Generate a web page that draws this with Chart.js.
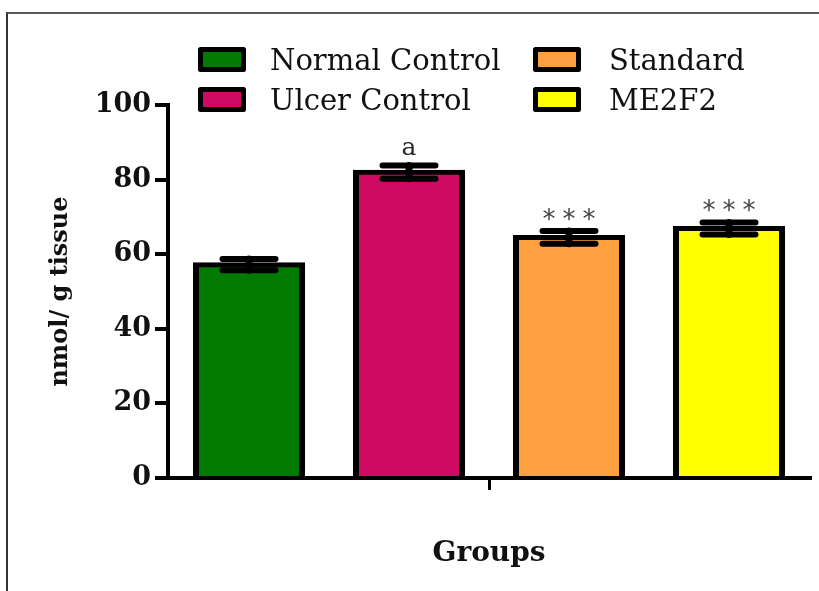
<!DOCTYPE html>
<html>
<head>
<meta charset="utf-8">
<title>nmol/ g tissue by group</title>
<script src="https://cdn.jsdelivr.net/npm/chart.js@4.4.1/dist/chart.umd.min.js"></script>
<style>
  html, body { margin: 0; padding: 0; background: #fff; }
  #wrap { position: relative; width: 819px; height: 591px; overflow: hidden; }
  #frame { position: absolute; left: 6px; top: 12px; width: 900px; height: 700px;
           border-left: 2px solid #333; border-top: 2px solid #5a5a5a; }
  #chart { position: absolute; left: 0; top: 0; }
</style>
</head>
<body>
<div id="wrap">
  <div id="frame"></div>
  <canvas id="chart" width="819" height="591"></canvas>
</div>
<script>
// ---- data ----
const groups = ['Normal Control', 'Ulcer Control', 'Standard', 'ME2F2'];
const means = [57.2, 82.0, 64.5, 66.9];
const sem = [1.5, 1.8, 1.7, 1.6];
const significance = ['', 'a', '***', '***'];
const categories = [''];
const yTickValues = [0, 20, 40, 60, 80, 100];
const xTitle = 'Groups';
const yTitle = 'nmol/ g tissue';

// ---- styles ----
const palette = ['#007A00', '#CF0A63', '#FFA040', '#FFFF00'];
const BORDER = 5;

const datasets = groups.map((g, i) => ({
  label: g,
  data: [means[i]],
  errors: [sem[i]],
  note: significance[i],
  backgroundColor: palette[i],
  borderColor: '#000',
  borderWidth: { top: BORDER, left: 6, right: 6, bottom: 0 },
  borderSkipped: 'start',
  inflateAmount: 2.5,
  categoryPercentage: 0.9969,
  barPercentage: 0.669
}));

// mean ± SEM whiskers with flat caps
const errorBars = {
  id: 'errorBars',
  afterDatasetsDraw(chart) {
    const { ctx } = chart;
    const y = chart.scales.y;
    ctx.save();
    ctx.strokeStyle = '#000';
    ctx.lineCap = 'round';
    chart.data.datasets.forEach((ds, i) => {
      chart.getDatasetMeta(i).data.forEach((bar, j) => {
        const v = ds.data[j], e = ds.errors[j];
        const yHi = y.getPixelForValue(v + e);
        const yLo = y.getPixelForValue(v - e);
        const half = 26.5;
        ctx.lineWidth = 7;
        ctx.beginPath();
        ctx.moveTo(bar.x, yHi);
        ctx.lineTo(bar.x, yLo);
        ctx.stroke();
        ctx.lineWidth = 6;
        ctx.beginPath();
        ctx.moveTo(bar.x - half, yHi); ctx.lineTo(bar.x + half, yHi);
        ctx.moveTo(bar.x - half, yLo); ctx.lineTo(bar.x + half, yLo);
        ctx.stroke();
      });
    });
    ctx.restore();
  }
};

// significance marks above each whisker
const sigMarks = {
  id: 'sigMarks',
  afterDatasetsDraw(chart) {
    const { ctx } = chart;
    const y = chart.scales.y;
    ctx.save();
    ctx.textAlign = 'center';
    ctx.textBaseline = 'alphabetic';
    chart.data.datasets.forEach((ds, i) => {
      if (!ds.note) return;
      const bar = chart.getDatasetMeta(i).data[0];
      const capTop = y.getPixelForValue(ds.data[0] + ds.errors[0]) - 3;
      const inkBottom = capTop - 7;
      if (ds.note.includes('*')) {
        ctx.font = '26px "DejaVu Sans"';
        ctx.fillStyle = '#444';
        const m = ctx.measureText('*');
        const base = inkBottom - m.actualBoundingBoxDescent;
        const chars = ds.note.split('');
        const step = 20;
        chars.forEach((ch, k) => {
          ctx.fillText(ch, bar.x + (k - (chars.length - 1) / 2) * step, base);
        });
      } else {
        ctx.font = '25px "DejaVu Serif"';
        ctx.fillStyle = '#2a2a2a';
        const m = ctx.measureText(ds.note);
        ctx.fillText(ds.note, bar.x, inkBottom - m.actualBoundingBoxDescent);
      }
    });
    ctx.restore();
  }
};

// two-column legend: first column holds the controls, second the treatments
const gridLegend = {
  id: 'gridLegend',
  afterDraw(chart) {
    const { ctx } = chart;
    const colX = [198, 533];
    const rowY = [47, 87];
    const boxW = 48, boxH = 25;
    const textX = [270, 609];
    const baseline = [70, 110];
    ctx.save();
    ctx.font = '29px "DejaVu Serif"';
    ctx.textBaseline = 'alphabetic';
    ctx.textAlign = 'left';
    chart.data.datasets.forEach((ds, i) => {
      const c = Math.floor(i / 2), r = i % 2;
      const x = colX[c], yy = rowY[r];
      ctx.fillStyle = ds.backgroundColor;
      ctx.strokeStyle = '#000';
      ctx.lineWidth = 5;
      ctx.lineJoin = 'round';
      ctx.beginPath();
      ctx.rect(x + 2.5, yy + 2.5, boxW - 5, boxH - 5);
      ctx.fill();
      ctx.stroke();
      ctx.fillStyle = '#111';
      ctx.fillText(ds.label, textX[c], baseline[r]);
    });
    ctx.restore();
  }
};

new Chart(document.getElementById('chart'), {
  type: 'bar',
  data: { labels: categories, datasets },
  plugins: [errorBars, sigMarks, gridLegend],
  options: {
    responsive: false,
    animation: false,
    devicePixelRatio: 1,
    layout: { padding: { left: 0, right: 9, top: 105, bottom: 0 } },
    plugins: { legend: { display: false }, tooltip: { enabled: false } },
    scales: {
      x: {
        type: 'category',
        offset: true,
        grid: { display: true, drawOnChartArea: false, drawTicks: true, tickLength: 12,
                lineWidth: 3, color: '#000', offset: false },
        border: { display: true, width: 4, color: '#000' },
        ticks: { display: true, color: '#000' },
        title: { display: true, text: xTitle, color: '#111',
                 font: { family: 'DejaVu Serif', size: 28, weight: 'bold' },
                 padding: { top: 0, bottom: 20 } },
        afterFit(scale) { scale.height = 113; }
      },
      y: {
        min: 0,
        max: 100,
        grid: { display: true, drawOnChartArea: false, drawTicks: true, tickLength: 13,
                lineWidth: 4, color: '#000' },
        border: { display: true, width: 4, color: '#000' },
        afterBuildTicks(scale) { scale.ticks = yTickValues.map(v => ({ value: v })); },
        ticks: { color: '#111', padding: 4,
                 font: { family: 'DejaVu Serif', size: 27, weight: 'bold' } },
        title: { display: true, text: yTitle, color: '#111',
                 font: { family: 'DejaVu Serif', size: 24, weight: 'bold' },
                 padding: { top: 46, bottom: 0 } },
        afterFit(scale) { scale.width = 168; }
      }
    }
  }
});
</script>
</body>
</html>
